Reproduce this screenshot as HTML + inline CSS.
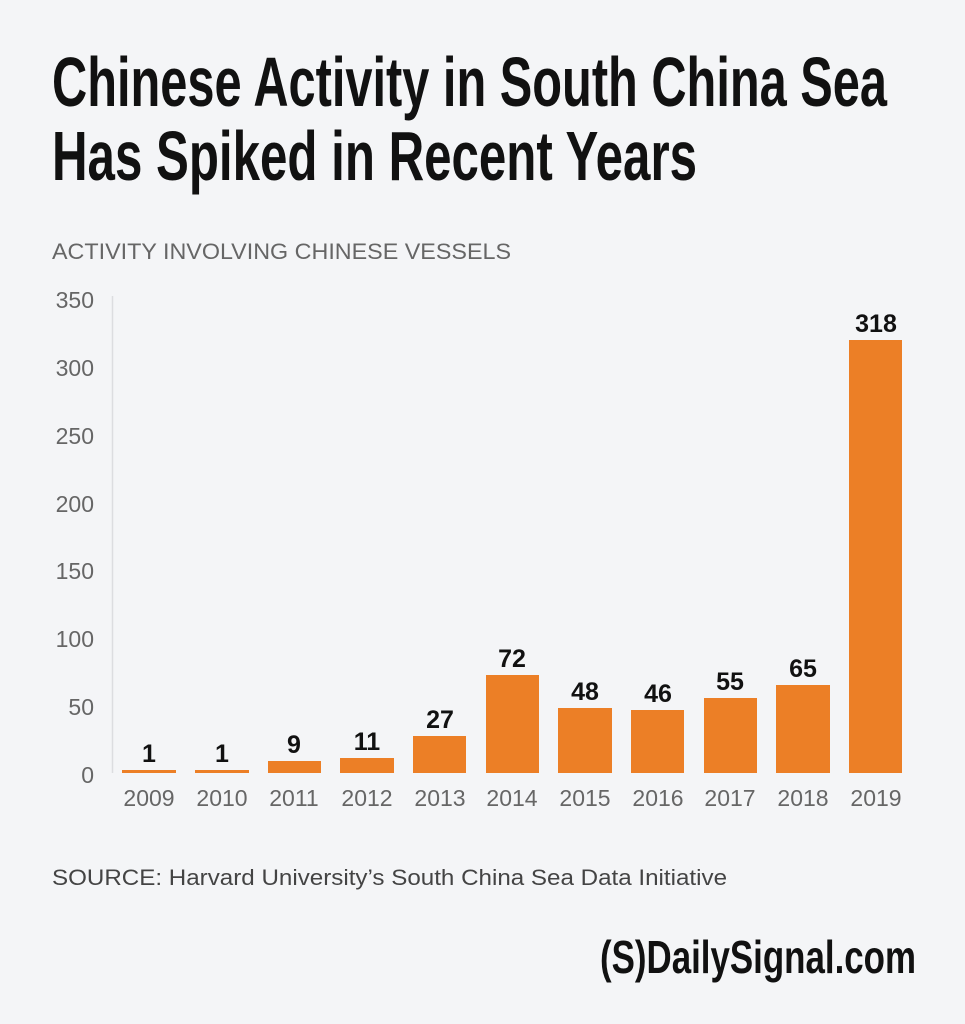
<!DOCTYPE html>
<html><head><meta charset="utf-8"><style>
html,body{margin:0;padding:0;background:#f4f5f7;}
svg{display:block;}
</style></head><body>
<svg width="965" height="1024" viewBox="0 0 965 1024" xmlns="http://www.w3.org/2000/svg">
<rect width="965" height="1024" fill="#f4f5f7"/>
<g font-family="Liberation Sans, sans-serif">
<text x="52" y="106" font-size="70" font-weight="bold" fill="#111" textLength="835" lengthAdjust="spacingAndGlyphs">Chinese Activity in South China Sea</text>
<text x="52" y="180" font-size="70" font-weight="bold" fill="#111" textLength="645" lengthAdjust="spacingAndGlyphs">Has Spiked in Recent Years</text>
<text x="52" y="259" font-size="22" fill="#666" textLength="459" lengthAdjust="spacingAndGlyphs">ACTIVITY INVOLVING CHINESE VESSELS</text>
<line x1="112.5" y1="296" x2="112.5" y2="773" stroke="#dcdde0" stroke-width="1.5"/>
<g font-size="23" fill="#666" text-anchor="end">
<text x="94" y="308">350</text><text x="94" y="376">300</text><text x="94" y="444">250</text>
<text x="94" y="512">200</text><text x="94" y="579">150</text><text x="94" y="647">100</text>
<text x="94" y="715">50</text><text x="94" y="783">0</text>
</g>
<g fill="#ec7f26">
<rect x="122" y="770" width="54" height="3"/>
<rect x="195" y="770" width="54" height="3"/>
<rect x="268" y="761" width="53" height="12"/>
<rect x="340" y="758" width="54" height="15"/>
<rect x="413" y="736" width="53" height="37"/>
<rect x="486" y="675" width="53" height="98"/>
<rect x="558" y="708" width="54" height="65"/>
<rect x="631" y="710" width="53" height="63"/>
<rect x="704" y="698" width="53" height="75"/>
<rect x="776" y="685" width="54" height="88"/>
<rect x="849" y="340" width="53" height="433"/>
</g>
<g font-size="25" font-weight="bold" fill="#111" text-anchor="middle">
<text x="149" y="762">1</text><text x="222" y="762">1</text><text x="294" y="753">9</text>
<text x="367" y="750">11</text><text x="440" y="728">27</text><text x="512" y="667">72</text>
<text x="585" y="700">48</text><text x="658" y="702">46</text><text x="730" y="690">55</text>
<text x="803" y="677">65</text><text x="876" y="332">318</text>
</g>
<g font-size="23" fill="#666" text-anchor="middle">
<text x="149" y="806">2009</text><text x="222" y="806">2010</text><text x="294" y="806">2011</text>
<text x="367" y="806">2012</text><text x="440" y="806">2013</text><text x="512" y="806">2014</text>
<text x="585" y="806">2015</text><text x="658" y="806">2016</text><text x="730" y="806">2017</text>
<text x="803" y="806">2018</text><text x="876" y="806">2019</text>
</g>
<text x="52" y="885" font-size="22" fill="#444" textLength="675" lengthAdjust="spacingAndGlyphs">SOURCE: Harvard University’s South China Sea Data Initiative</text>
<text x="600" y="973" font-size="46" font-weight="bold" fill="#111" textLength="316" lengthAdjust="spacingAndGlyphs">(S)DailySignal.com</text>
</g>
</svg>
</body></html>
